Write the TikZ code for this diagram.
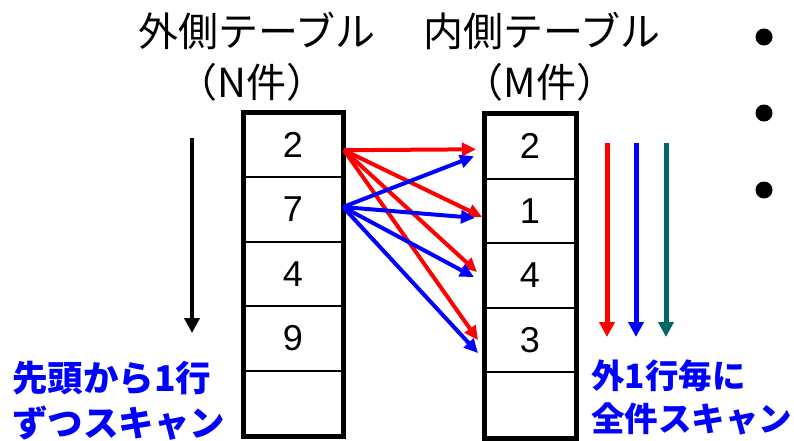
\documentclass[tikz,border=0pt]{standalone}
\usepackage{fontspec}
\setmainfont{Liberation Sans}
\newfontfamily\jp{Noto Sans CJK JP}
\usetikzlibrary{arrows.meta,calc}
\definecolor{teal6}{RGB}{0,102,102}
\begin{document}
\begin{tikzpicture}[x=1pt,y=-1pt,
  cellL/.style={draw, line width=2pt, minimum width=98pt, minimum height=64.4pt, inner sep=0pt, font=\fontsize{36}{36}\selectfont},
  cellR/.style={draw, line width=2pt, minimum width=90pt, minimum height=64.6pt, inner sep=0pt, font=\fontsize{36}{36}\selectfont},
  frame/.style={draw, line width=5pt},
  title/.style={font=\jp\fontsize{40}{40}\selectfont, inner sep=0pt},
  bluelabel/.style={font=\jp\bfseries\fontsize{35.5}{35.5}\selectfont, text={rgb,255:red,0;green,0;blue,255}, inner sep=0pt, anchor=west},
  redarr/.style={draw=red, line width=4pt, -{Triangle[length=14pt,width=13pt]}},
  bluearr/.style={draw={rgb,255:red,0;green,0;blue,255}, line width=4pt, -{Triangle[length=14pt,width=13pt]}},
  scanarr/.style={line width=5pt, -{Triangle[length=15pt,width=15pt]}},
  bullet/.style={circle, fill=black, minimum size=17pt, inner sep=0pt}
]
\useasboundingbox (0,0) rectangle (794,440);

% titles
\node[title] (tL) at (257,31) {外側テーブル};
\node[title] (tLn) at (252,82) {（N件）};
\node[title] (tR) at (542,31) {内側テーブル};
\node[title] (tRn) at (540,82) {（M件）};

% outer table
\node[cellL] (L1) at (293,145.2) {2};
\node[cellL] (L2) at (293,209.6) {7};
\node[cellL] (L3) at (293,274.0) {4};
\node[cellL] (L4) at (293,338.4) {9};
\node[cellL] (L5) at (293,402.8) {};
\draw[frame] (L1.north west) rectangle (L5.south east);

% inner table
\node[cellR] (R1) at (530,146.3) {2};
\node[cellR] (R2) at (530,210.9) {1};
\node[cellR] (R3) at (530,275.5) {4};
\node[cellR] (R4) at (530,340.1) {3};
\node[cellR] (R5) at (530,404.7) {};
\draw[frame] (R1.north west) rectangle (R5.south east);

% join arrows
\draw[redarr] ($(L1.east)+(1,5)$) -- ($(R1.west)+(-8,3)$);
\draw[redarr] ($(L1.east)+(1,5)$) -- ($(R2.west)+(-2,6)$);
\draw[redarr] ($(L1.east)+(1,5)$) -- ($(R3.west)+(-7,-3.5)$);
\draw[redarr] ($(L1.east)+(1,5)$) -- ($(R4.west)+(-6,0)$);
\draw[bluearr] ($(L2.east)+(0,-2.6)$) -- ($(R1.west)+(-10,10)$);
\draw[bluearr] ($(L2.east)+(0,-2.6)$) -- ($(R2.west)+(-9,7)$);
\draw[bluearr] ($(L2.east)+(0,-2.6)$) -- ($(R3.west)+(-10,1.5)$);
\draw[bluearr] ($(L2.east)+(0,-2.6)$) -- ($(R4.west)+(-6,13)$);

% scan arrows
\coordinate (sa) at (192,138);
\coordinate (sb) at (192,333);
\draw[line width=4pt,-{Triangle[length=15pt,width=15pt]}] (sa) -- (sb);
\coordinate (ra) at (607,143);
\coordinate (rb) at (607,337);
\coordinate (ba) at (636,143);
\coordinate (bb) at (636,337);
\coordinate (ga) at (666,143);
\coordinate (gb) at (666,337);
\draw[scanarr, red] (ra) -- (rb);
\draw[scanarr, blue] (ba) -- (bb);
\draw[scanarr, teal6] (ga) -- (gb);

% labels
\node[bluelabel] (lab1) at (12,378) {先頭から1行};
\node[bluelabel] (lab2) at (12,423) {ずつスキャン};
\node[bluelabel, font=\jp\bfseries\fontsize{33.5}{33.5}\selectfont] (lab3) at (591,376) {外1行毎に};
\node[bluelabel, font=\jp\bfseries\fontsize{33.5}{33.5}\selectfont] (lab4) at (591,419) {全件スキャン};

% bullets
\node[bullet] (b1) at (764,37) {};
\node[bullet] (b2) at (764,113) {};
\node[bullet] (b3) at (764,190) {};
\end{tikzpicture}
\end{document}
